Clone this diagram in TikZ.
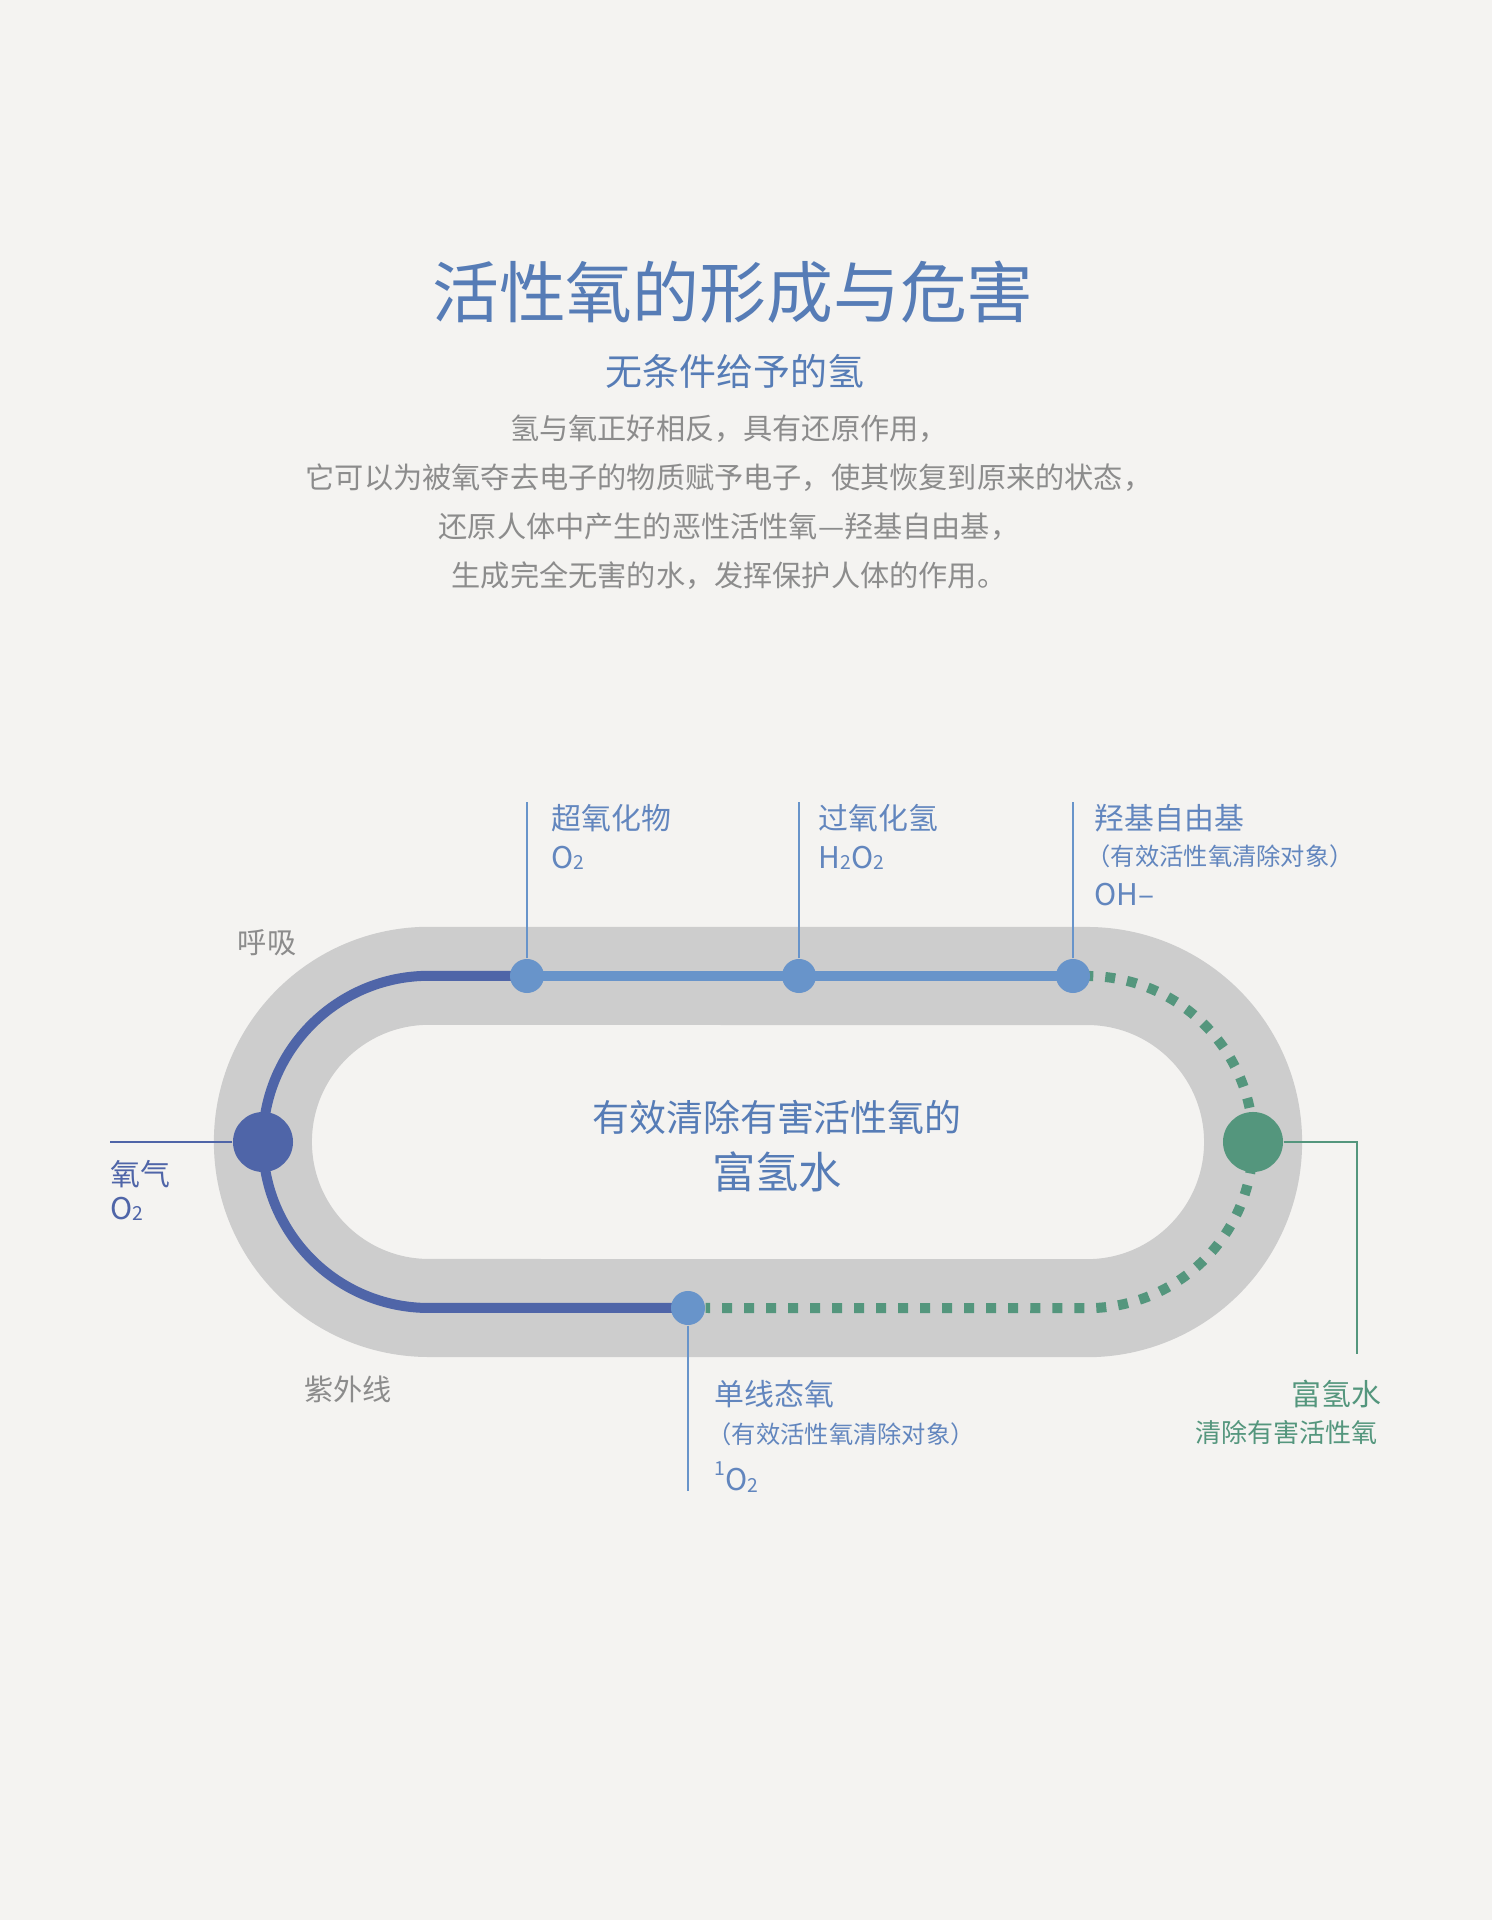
\documentclass[tikz,border=0pt]{standalone}
\usepackage{fontspec}
\setmainfont{Noto Sans CJK SC}
\usepackage{tikz}
\usetikzlibrary{positioning,backgrounds}
\definecolor{paperbg}{RGB}{244,243,241}
\definecolor{trackgray}{RGB}{205,205,205}
\definecolor{titleblue}{RGB}{86,124,182}
\definecolor{textgray}{RGB}{140,140,140}
\definecolor{oxydark}{RGB}{79,101,168}
\definecolor{oxylight}{RGB}{104,148,202}
\definecolor{labelblue}{RGB}{98,134,190}
\definecolor{hydrogreen}{RGB}{84,150,125}

\newcommand{\smallsub}[1]{\raisebox{-0.05em}{\fontsize{5.5}{6}\selectfont #1}}

\begin{document}
\begin{tikzpicture}[
    x=0.01cm, y=0.01cm,
    spot/.style={circle, fill=#1, inner sep=0pt, minimum size=0.34cm},
    bigspot/.style={circle, fill=#1, inner sep=0pt, minimum size=0.6cm},
    flow/.style={line width=0.1cm, draw=#1},
    leader/.style={draw=#1, line width=0.45pt},
    lbl/.style={anchor=west, inner sep=0pt, text=#1, font=\fontsize{8.5}{10}\selectfont},
    note/.style={anchor=west, inner sep=0pt, text=#1, font=\fontsize{6.9}{8}\selectfont},
    side/.style={inner sep=0pt, text=textgray, font=\fontsize{8.3}{10}\selectfont}
  ]
    \useasboundingbox (0,0) rectangle (1492,1920);

    % Heading
    \node[font=\fontsize{19}{22}\selectfont, text=titleblue] (title) at (733,1628) {活性氧的形成与危害};
    \node[font=\fontsize{10.5}{13}\selectfont, text=titleblue] (subtitle) at (735,1549) {无条件给予的氢};
    \node[align=center, font=\fontsize{8.3}{13.9}\selectfont, text=textgray] (intro) at (729,1418)
      {氢与氧正好相反，具有还原作用，\\它可以为被氧夺去电子的物质赋予电子，使其恢复到原来的状态，\\还原人体中产生的恶性活性氧—羟基自由基，\\生成完全无害的水，发挥保护人体的作用。};

    % Stations on the track
    \node[bigspot=oxydark] (oxygen) at (263,778) {};
    \node[spot=oxylight] (superox) at (527,944) {};
    \node[spot=oxylight] (peroxide) at (799,944) {};
    \node[spot=oxylight] (hydroxyl) at (1073,944) {};
    \node[spot=oxylight] (singlet) at (688,612) {};
    \node[bigspot=hydrogreen] (hwater) at (1253,778) {};

    % Track and flows
    \begin{scope}[on background layer]
      \fill[paperbg] (0,0) rectangle (1492,1920);
      \draw[line width=0.98cm, trackgray, line join=round] (758,944) -- (1087,944) arc (90:-90:1.66cm) -- (429,612) arc (270:90:1.66cm) -- cycle;
      \draw[flow=oxydark] (singlet.center) -- (429,612) arc (270:90:1.66cm) -- (superox.center);
      \draw[flow=oxylight] (superox.center) -- (hydroxyl.center);
      \draw[flow=hydrogreen, dash pattern=on 0.1cm off 0.12cm] (hydroxyl.east) -- (1087,944) arc (90:-90:1.66cm) -- (singlet.east);
    \end{scope}

    % Leader ends
    \coordinate (superoxTop) at (527,1118);
    \coordinate (peroxideTop) at (799,1118);
    \coordinate (hydroxylTop) at (1073,1118);
    \coordinate (singletEnd) at (688,429);
    \coordinate (oxygenEnd) at (110,778);
    \coordinate (hwTurn) at (1357,778);
    \coordinate (hwEnd) at (1357,566);

    \draw[leader=oxylight] (superox) -- (superoxTop);
    \draw[leader=oxylight] (peroxide) -- (peroxideTop);
    \draw[leader=oxylight] (hydroxyl) -- (hydroxylTop);
    \draw[leader=oxylight] (singlet) -- (singletEnd);
    \draw[leader=oxydark] (oxygen) -- (oxygenEnd);
    \draw[leader=hydrogreen] (hwater) -- (hwTurn) -- (hwEnd);

    % Labels
    \node[lbl=labelblue] (superoxName) at (551,1102) {超氧化物};
    \node[lbl=labelblue] (superoxFormula) at (551,1062) {O\smallsub{2}};
    \node[lbl=labelblue] (peroxideName) at (818,1102) {过氧化氢};
    \node[lbl=labelblue] (peroxideFormula) at (818,1062) {H\smallsub{2}O\smallsub{2}};
    \node[lbl=labelblue] (hydroxylName) at (1094,1102) {羟基自由基};
    \node[note=labelblue] (hydroxylNote) at (1086,1064) {（有效活性氧清除对象）};
    \node[lbl=labelblue] (hydroxylFormula) at (1094,1025) {OH–};
    \node[lbl=labelblue] (singletName) at (714,526) {单线态氧};
    \node[note=labelblue] (singletNote) at (707,486) {（有效活性氧清除对象）};
    \node[lbl=labelblue] (singletFormula) at (714,443) {\raisebox{0.5em}{\fontsize{5.5}{6}\selectfont 1}O\smallsub{2}};
    \node[lbl=oxydark] (oxygenName) at (110,746) {氧气};
    \node[lbl=oxydark] (oxygenFormula) at (110,711) {O\smallsub{2}};
    \node[lbl=hydrogreen, anchor=east] (hwName) at (1382,526) {富氢水};
    \node[note=hydrogreen, anchor=east, font=\fontsize{7.4}{9}\selectfont] (hwNote) at (1378,487) {清除有害活性氧};
    \node[side] (breath) at (267,977) {呼吸};
    \node[side] (uv) at (348,531) {紫外线};

    % Centre
    \node[text=titleblue, font=\fontsize{10.5}{13}\selectfont] (centreTop) at (777,803) {有效清除有害活性氧的};
    \node[text=titleblue, font=\fontsize{12.3}{15}\selectfont] (centreMain) at (777,748) {富氢水};
  \end{tikzpicture}
\end{document}
